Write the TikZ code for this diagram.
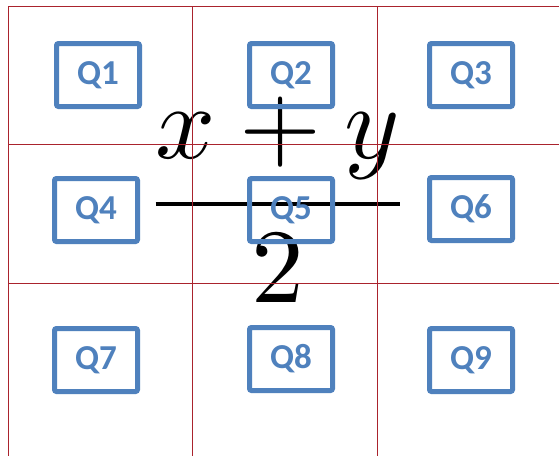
\documentclass[tikz,border=0pt]{standalone}
\usepackage{fontspec}
\newfontfamily\boxfont{Carlito}
\definecolor{gridred}{RGB}{170,35,45}
\definecolor{qblue}{RGB}{79,129,189}
\tikzset{
  qbox/.style={draw=qblue, line width=5pt, rounded corners=2pt,
    minimum width=83pt, minimum height=63pt, inner sep=0pt,
    text=qblue, font=\boxfont\bfseries\fontsize{35}{40}\selectfont},
  gridline/.style={draw=gridred, line width=1pt}
}
\begin{document}
\begin{tikzpicture}[x=1pt, y=-1pt]
  \useasboundingbox (0,0) rectangle (559,456);
  \fill[white] (0,0) rectangle (559,456);

  % large display fraction behind the grid
  \node[scale=10.55, inner sep=0pt, anchor=base] (frac) at (278,230)
    {$\displaystyle\frac{x+y}{2}$};

  % red grid
  \coordinate (v1t) at (8,6);   \coordinate (v1b) at (8,456);
  \coordinate (v2t) at (192,6); \coordinate (v2b) at (192,456);
  \coordinate (v3t) at (377,6); \coordinate (v3b) at (377,456);
  \coordinate (h1l) at (8,6);   \coordinate (h1r) at (559,6);
  \coordinate (h2l) at (8,144); \coordinate (h2r) at (559,144);
  \coordinate (h3l) at (8,283); \coordinate (h3r) at (559,283);
  \draw[gridline] (v1t) -- (v1b);
  \draw[gridline] (v2t) -- (v2b);
  \draw[gridline] (v3t) -- (v3b);
  \draw[gridline] (h1l) -- (h1r);
  \draw[gridline] (h2l) -- (h2r);
  \draw[gridline] (h3l) -- (h3r);

  % labelled boxes
  \node[qbox] (q1) at (98,75)  {Q1};
  \node[qbox] (q2) at (291,75) {Q2};
  \node[qbox] (q3) at (471,75) {Q3};
  \node[qbox] (q4) at (96,210) {Q4};
  \node[qbox] (q5) at (291,210) {Q5};
  \node[qbox] (q6) at (471,209) {Q6};
  \node[qbox] (q7) at (96,360) {Q7};
  \node[qbox] (q8) at (291,359) {Q8};
  \node[qbox] (q9) at (471,360) {Q9};
\end{tikzpicture}
\end{document}
